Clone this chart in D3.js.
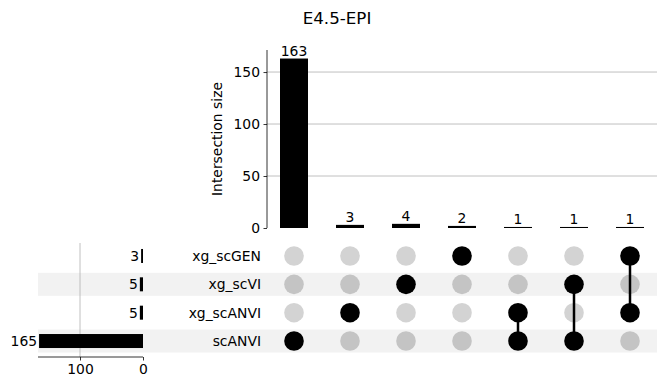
<!DOCTYPE html>
<html><head><meta charset="utf-8">
<script src="https://cdn.jsdelivr.net/npm/d3@7"></script>
<style>body{margin:0;background:#fff}svg{display:block;font-family:"DejaVu Sans",sans-serif}</style>
</head><body><svg id="c" width="667" height="391"></svg>
<script>
const title = "E4.5-EPI";
const sets = ["xg_scGEN", "xg_scVI", "xg_scANVI", "scANVI"];
const setTotals = [3, 5, 5, 165];
const intersections = [["scANVI"], ["xg_scANVI"], ["xg_scVI"], ["xg_scGEN"], ["scANVI","xg_scANVI"], ["scANVI","xg_scVI"], ["xg_scGEN","xg_scANVI"]];
const intersectionSizes = [163, 3, 4, 2, 1, 1, 1];
const yTicks = [0, 50, 100, 150];
const xTicks = [100, 0];

const FS = 13.9;
const svg = d3.select("#c");
const cols = d3.range(intersections.length);
const x = d3.scaleBand().domain(cols).range([266, 658]);
const y = d3.scaleLinear().domain([0, 171.2]).range([228, 50]);
const row = d3.scaleBand().domain(sets).range([241.8, 355.2]);
const xl = d3.scaleLinear().domain([0, 166.7]).range([143, 38]);

svg.append("text").attr("x", 337).attr("y", 24).attr("text-anchor", "middle")
  .attr("font-size", 16.7).text(title);

// row shading
svg.selectAll(".band").data(sets.filter((s,i)=>i%2===1)).join("rect")
  .attr("x", 38).attr("width", 657-38)
  .attr("y", d => row(d) + row.bandwidth()/2 - 11.5).attr("height", 23)
  .attr("fill", "#f2f2f2");

// top gridlines
svg.selectAll(".g").data(yTicks.filter(t=>t>0)).join("line")
  .attr("x1", 267).attr("x2", 657).attr("y1", d=>y(d)).attr("y2", d=>y(d))
  .attr("stroke", "#b0b0b0").attr("stroke-width", 0.8);

// top bars
const bw = x.bandwidth()*0.5;
svg.selectAll(".bar").data(intersectionSizes).join("rect")
  .attr("x", (d,i)=>x(i)+x.bandwidth()/2-bw/2).attr("width", bw)
  .attr("y", d=>y(d)).attr("height", d=>228-y(d)).attr("fill", "#000");
svg.selectAll(".bl").data(intersectionSizes).join("text")
  .attr("x", (d,i)=>x(i)+x.bandwidth()/2).attr("y", d=>y(d)-3)
  .attr("text-anchor","middle").attr("font-size", FS).text(d=>d);

// top y axis
const ya = svg.append("g").attr("transform","translate(267,0)")
  .call(d3.axisLeft(y).tickValues(yTicks).tickSize(3.5).tickPadding(3.5));
ya.select(".domain").attr("d", "M0,50V228").attr("stroke","#000").attr("stroke-width",0.8);
ya.selectAll("text").attr("font-size", FS).attr("font-family","DejaVu Sans").attr("fill","#000");
ya.selectAll(".tick line").attr("stroke-width",0.8);
svg.append("text").attr("transform","translate(222,139) rotate(-90)")
  .attr("text-anchor","middle").attr("font-size",FS).text("Intersection size");

// left gridline
svg.selectAll(".lg").data([100]).join("line")
  .attr("x1", d=>xl(d)).attr("x2", d=>xl(d)).attr("y1", 243).attr("y2", 357)
  .attr("stroke", "#b0b0b0").attr("stroke-width", 0.8);

// left bars
svg.selectAll(".lb").data(setTotals).join("rect")
  .attr("x", d=>xl(d)).attr("width", d=>143-xl(d))
  .attr("y", (d,i)=>row(sets[i])+row.bandwidth()/2-7).attr("height", 14).attr("fill","#000");
svg.selectAll(".ll").data(setTotals).join("text")
  .attr("x", d=>xl(d)-2).attr("y", (d,i)=>row(sets[i])+row.bandwidth()/2+5)
  .attr("text-anchor","end").attr("font-size",FS).text(d=>d);

const xa = svg.append("g").attr("transform","translate(0,357)")
  .call(d3.axisBottom(xl).tickValues(xTicks).tickSize(3.5).tickPadding(3.5));
xa.select(".domain").attr("d","M38,0H143").attr("stroke","#000").attr("stroke-width",0.8);
xa.selectAll("text").attr("font-size",FS).attr("font-family","DejaVu Sans").attr("fill","#000");
xa.selectAll(".tick line").attr("stroke-width",0.8);

// set labels
svg.selectAll(".sl").data(sets).join("text")
  .attr("x", 261).attr("y", d=>row(d)+row.bandwidth()/2+5)
  .attr("text-anchor","end").attr("font-size",FS).text(d=>d);

// matrix dots
const cells = [];
intersections.forEach((inter,i)=>sets.forEach((s,j)=>cells.push({i, s, j, on: inter.includes(s)})));
svg.selectAll(".dot").data(cells.filter(c=>!c.on)).join("circle")
  .attr("cx", c=>x(c.i)+x.bandwidth()/2).attr("cy", c=>row(c.s)+row.bandwidth()/2)
  .attr("r", 9.8).attr("fill", c=> c.j%2===1 ? "#c4c4c4" : "#d3d3d3");
// connectors
intersections.forEach((inter,i)=>{
  if (inter.length<2) return;
  const ys = inter.map(s=>row(s)+row.bandwidth()/2);
  svg.append("line").attr("x1", x(i)+x.bandwidth()/2).attr("x2", x(i)+x.bandwidth()/2)
    .attr("y1", d3.min(ys)).attr("y2", d3.max(ys)).attr("stroke","#000").attr("stroke-width",2.5);
});
svg.selectAll(".don").data(cells.filter(c=>c.on)).join("circle")
  .attr("cx", c=>x(c.i)+x.bandwidth()/2).attr("cy", c=>row(c.s)+row.bandwidth()/2)
  .attr("r", 9.8).attr("fill", "#000");
</script></body></html>
